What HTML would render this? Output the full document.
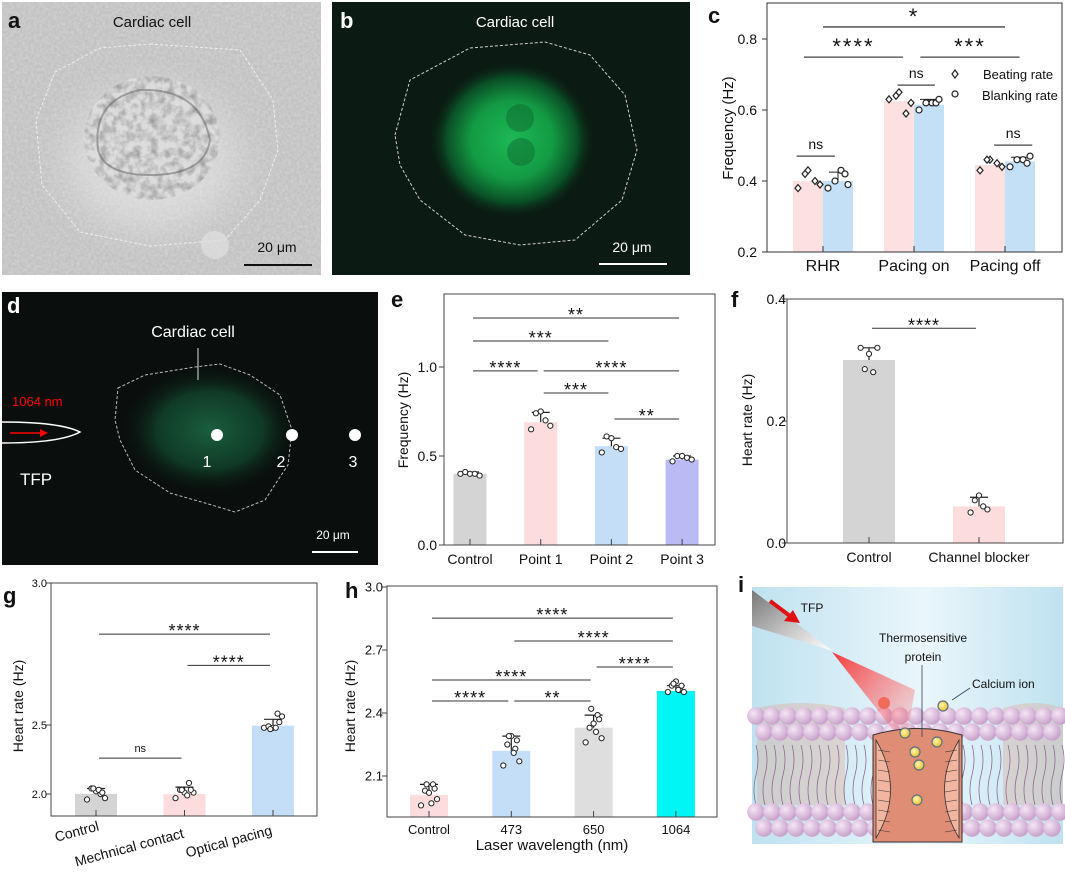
<!DOCTYPE html>
<html><head><meta charset="utf-8"><style>
html,body{margin:0;padding:0;background:#fff}
svg{display:block}
text{font-family:"Liberation Sans",Arial,sans-serif}
</style></head><body>
<svg id="fig" width="1065" height="873" viewBox="0 0 1065 873" xmlns="http://www.w3.org/2000/svg">
<defs>
<filter id="noise" x="0" y="0" width="1" height="1"><feTurbulence type="fractalNoise" baseFrequency="0.35" numOctaves="2" seed="3"/><feColorMatrix type="matrix" values="0 0 0 0 0.85  0 0 0 0 0.85  0 0 0 0 0.85  0 0 0 1.2 -0.35"/></filter>
<filter id="noise2" x="0" y="0" width="1" height="1"><feTurbulence type="fractalNoise" baseFrequency="0.12" numOctaves="3" seed="7"/><feColorMatrix type="matrix" values="0 0 0 0 0.2  0 0 0 0 0.2  0 0 0 0 0.2  0 0 0 1.6 -0.6"/></filter>
<radialGradient id="greenB" cx="0.5" cy="0.5" r="0.5"><stop offset="0" stop-color="#1db955"/><stop offset="0.5" stop-color="#139a44"/><stop offset="0.8" stop-color="#0a4f26"/><stop offset="1" stop-color="#0b2417" stop-opacity="0"/></radialGradient>
<radialGradient id="greenD" cx="0.5" cy="0.5" r="0.5"><stop offset="0" stop-color="#1a5e3c"/><stop offset="0.6" stop-color="#103a26"/><stop offset="1" stop-color="#0a1410" stop-opacity="0"/></radialGradient>
<radialGradient id="cellA" cx="0.5" cy="0.5" r="0.5"><stop offset="0" stop-color="#e6e6e6"/><stop offset="0.6" stop-color="#d2d2d2"/><stop offset="1" stop-color="#c8c8c8" stop-opacity="0"/></radialGradient>
<linearGradient id="bgI" x1="0" y1="0" x2="1" y2="0"><stop offset="0" stop-color="#bfe2f0"/><stop offset="0.55" stop-color="#eaf6fb"/><stop offset="1" stop-color="#bfe2f0"/></linearGradient>
<linearGradient id="laser" x1="0" y1="0" x2="1" y2="1"><stop offset="0" stop-color="#ff1a1a"/><stop offset="1" stop-color="#ff6060" stop-opacity="0.1"/></linearGradient>
<linearGradient id="needle" x1="0" y1="0" x2="1" y2="1"><stop offset="0" stop-color="#777"/><stop offset="0.6" stop-color="#ccc"/><stop offset="1" stop-color="#fff"/></linearGradient>
<radialGradient id="ball" cx="0.35" cy="0.35" r="0.65"><stop offset="0" stop-color="#f6e6f6"/><stop offset="1" stop-color="#c9a3cb"/></radialGradient>
<radialGradient id="ion" cx="0.4" cy="0.4" r="0.6"><stop offset="0" stop-color="#fff7b0"/><stop offset="1" stop-color="#e8c22a"/></radialGradient>
<clipPath id="cellClip"><ellipse cx="152" cy="138" rx="68" ry="62"/></clipPath>
</defs>

<!-- panel a -->
<g>
<rect x="2" y="2" width="319" height="273" fill="#c2c2c2"/>
<ellipse cx="152" cy="160" rx="120" ry="100" fill="url(#cellA)"/>
<rect x="2" y="2" width="319" height="273" filter="url(#noise)" opacity="0.5"/>
<ellipse cx="152" cy="138" rx="68" ry="62" fill="#dcdcdc"/>
<rect x="80" y="70" width="150" height="140" filter="url(#noise2)" clip-path="url(#cellClip)" opacity="0.8"/>
<path d="M98,150 Q92,100 140,90 Q200,88 210,140 Q205,175 150,175 Q105,175 98,150Z" fill="none" stroke="#555" stroke-width="2" opacity="0.45"/>
<path d="M150,44 L240,50 L273,100 L278,150 L260,200 L225,240 L150,246 L80,232 L42,185 L36,120 L55,72 L100,48 Z" fill="none" stroke="#eee" stroke-width="1" stroke-dasharray="3,2"/>
<circle cx="215" cy="245" r="14" fill="#e0e0e0" opacity="0.7"/>
<text x="8" y="28" font-size="22" font-weight="bold" fill="#111">a</text>
<text x="152" y="27" font-size="15" text-anchor="middle" fill="#111">Cardiac cell</text>
<text x="277" y="252" font-size="14" text-anchor="middle" fill="#111">20 μm</text>
<line x1="244" y1="265" x2="312" y2="265" stroke="#111" stroke-width="2"/>
</g>

<!-- panel b -->
<g>
<rect x="332" y="2" width="358" height="273" fill="#0b1a12"/>
<ellipse cx="512" cy="140" rx="82" ry="78" fill="url(#greenB)"/>
<circle cx="520" cy="118" r="14" fill="#0e6a30" opacity="0.5"/>
<circle cx="521" cy="152" r="14" fill="#0e6a30" opacity="0.5"/>
<path d="M395,135 L410,80 L470,48 L545,42 L590,55 L625,95 L637,150 L622,200 L575,240 L520,245 L465,235 L420,200 L400,165 Z" fill="none" stroke="#cfcfcf" stroke-width="1" stroke-dasharray="3,2"/>
<text x="340" y="28" font-size="22" font-weight="bold" fill="#fff">b</text>
<text x="515" y="27" font-size="15" text-anchor="middle" fill="#fff">Cardiac cell</text>
<text x="632" y="252" font-size="14" text-anchor="middle" fill="#fff">20 μm</text>
<line x1="599" y1="264" x2="667" y2="264" stroke="#fff" stroke-width="2"/>
</g>

<!-- panel d -->
<g>
<rect x="2" y="292" width="376" height="273" fill="#0a0f0d"/>
<ellipse cx="210" cy="430" rx="88" ry="64" fill="url(#greenD)"/>
<path d="M118,388 L145,375 L195,367 L220,364 L250,375 L280,395 L292,430 L288,465 L278,480 L265,500 L235,512 L205,503 L170,493 L135,470 L120,440 L115,420 Z" fill="none" stroke="#bbb" stroke-width="1" stroke-dasharray="3,2"/>
<line x1="198" y1="348" x2="198" y2="380" stroke="#ddd" stroke-width="1"/>
<path d="M2,422 Q60,422 80,432 Q60,443 2,443" fill="none" stroke="#fff" stroke-width="1.5"/>
<line x1="10" y1="433" x2="45" y2="433" stroke="#f00" stroke-width="1.5"/>
<path d="M48,433 L40,429 L40,437Z" fill="#f00"/>
<text x="12" y="406" font-size="13" fill="#f00">1064 nm</text>
<text x="20" y="485" font-size="17" fill="#fff">TFP</text>
<text x="193" y="337" font-size="16" text-anchor="middle" fill="#fff">Cardiac cell</text>
<circle cx="217" cy="435" r="6" fill="#fff"/>
<circle cx="292" cy="435" r="6" fill="#fff"/>
<circle cx="355" cy="435" r="6" fill="#fff"/>
<text x="207" y="467" font-size="16" text-anchor="middle" fill="#fff">1</text>
<text x="281" y="467" font-size="16" text-anchor="middle" fill="#fff">2</text>
<text x="353" y="467" font-size="16" text-anchor="middle" fill="#fff">3</text>
<text x="7" y="313" font-size="22" font-weight="bold" fill="#fff">d</text>
<text x="333" y="539" font-size="12" text-anchor="middle" fill="#fff">20 μm</text>
<line x1="312" y1="552" x2="358" y2="552" stroke="#fff" stroke-width="2"/>
</g>

<!-- panel i -->
<g id="panelI">
<rect x="752" y="587" width="311" height="257" fill="url(#bgI)"/>
</g>

<g id="charts"></g>
</svg>
<script>
// ---------- panel c data ----------
const cCategories = ['RHR', 'Pacing on', 'Pacing off'];
const cBeating = [0.40, 0.625, 0.445];
const cBlanking = [0.40, 0.615, 0.455];
const cBeatSd = [0.02, 0.02, 0.012];
const cBlankSd = [0.025, 0.015, 0.012];
const cBeatPts = [[0.38, 0.43, 0.40, 0.42, 0.39], [0.63, 0.65, 0.59, 0.64, 0.62], [0.43, 0.46, 0.45, 0.46, 0.44]];
const cBlankPts = [[0.38, 0.43, 0.40, 0.42, 0.39], [0.60, 0.62, 0.62, 0.62, 0.63], [0.44, 0.46, 0.46, 0.45, 0.47]];
const cTicks = [0.2, 0.4, 0.6, 0.8];
const cTickLabels = ['0.2', '0.4', '0.6', '0.8'];
const cSig = [[-0.21, 0.88, 0.749, '****'], [1.07, 2.16, 0.749, '***'], [0, 2, 0.834, '*'], [0.82, 1.23, 0.670, 'ns'], [-0.29, 0.13, 0.470, 'ns'], [1.88, 2.3, 0.501, 'ns']];
// ---------- panel e data ----------
const eCategories = ['Control', 'Point 1', 'Point 2', 'Point 3'];
const eMeans = [0.40, 0.69, 0.555, 0.48];
const eSd = [0.01, 0.055, 0.045, 0.02];
const ePts = [[0.40, 0.41, 0.40, 0.40, 0.39], [0.65, 0.74, 0.75, 0.70, 0.67], [0.52, 0.61, 0.60, 0.55, 0.54], [0.47, 0.50, 0.50, 0.49, 0.48]];
const eTicks = [0.0, 0.5, 1.0];
const eTickLabels = ['0.0', '0.5', '1.0'];
const eSig = [[0, 3, 1.275, '**'], [0, 2, 1.146, '***'], [0, 1, 0.978, '****'], [1, 3, 0.978, '****'], [1, 2, 0.854, '***'], [2, 3, 0.708, '**']];
// ---------- panel f data ----------
const fCategories = ['Control', 'Channel blocker'];
const fMeans = [0.30, 0.06];
const fSd = [0.02, 0.015];
const fPts = [[0.32, 0.285, 0.31, 0.28, 0.32], [0.05, 0.07, 0.078, 0.06, 0.055]];
const fTicks = [0.0, 0.2, 0.4];
const fTickLabels = ['0.0', '0.2', '0.4'];
const fSig = [[0, 1, 0.352, '****']];
// ---------- panel g data ----------
const gCategories = ['Control', 'Mechnical contact', 'Optical pacing'];
const gMeans = [2.0, 2.0, 2.495];
const gSd = [0.04, 0.05, 0.025];
const gPts = [[1.96, 2.04, 2.02, 2.00, 1.97, 2.04, 2.03, 2.01], [1.97, 2.03, 2.01, 2.08, 2.01, 2.03, 1.99, 2.03], [2.48, 2.49, 2.48, 2.54, 2.53, 2.47, 2.48, 2.51]];
const gTicks = [2.0, 2.5, 3.0];
const gTickLabels = ['2.0', '2.5', '3.0'];
const gSig = [[0, 2, 2.82, '****'], [1, 2, 2.71, '****'], [0, 1, 2.26, 'ns']];
// ---------- panel h data ----------
const hCategories = ['Control', '473', '650', '1064'];
const hMeans = [2.01, 2.22, 2.33, 2.505];
const hSd = [0.05, 0.07, 0.06, 0.025];
const hPts = [[1.96, 2.03, 2.02, 2.06, 1.99, 2.06, 1.97, 2.04], [2.15, 2.25, 2.29, 2.23, 2.17, 2.29, 2.21, 2.27], [2.26, 2.33, 2.35, 2.39, 2.28, 2.42, 2.31, 2.37], [2.50, 2.53, 2.55, 2.51, 2.50, 2.54, 2.51, 2.53]];
const hTicks = [2.1, 2.4, 2.7, 3.0];
const hTickLabels = ['2.1', '2.4', '2.7', '3.0'];
const hSig = [[0, 3, 2.852, '****'], [1, 3, 2.743, '****'], [2, 3, 2.619, '****'], [0, 2, 2.557, '****'], [0, 1, 2.457, '****'], [1, 2, 2.457, '**']];

const NS = 'http://www.w3.org/2000/svg';
const root = document.getElementById('charts');
function mk(tag, attrs, name, parent) {
  const el = document.createElementNS(NS, tag);
  for (const k in attrs) el.setAttribute(k, attrs[k]);
  
  
  (parent || root).appendChild(el);
  return el;
}
function tx(x, y, s, size, name, extra, parent) {
  const a = Object.assign({x: x, y: y, 'font-size': size, fill: '#111', 'text-anchor': 'middle'}, extra || {});
  const el = mk('text', a, name, parent);
  el.textContent = s;
  return el;
}
const jit5 = [-12, -6, 0, 6, 12];
const jit8 = [-10, -5, 0, 5, 10, -3, 3, 7];

function chart(o) {
  const g = mk('g', {}, o.name);
  o.means.forEach((m, i) => {
    mk('rect', {x: o.xc(i) - o.bw / 2, y: o.y(m), width: o.bw, height: o.fb - o.y(m), fill: o.colors[i]}, 'bar-' + o.cats[i].toLowerCase().replace(/ /g, '-'), g);
  });
  mk('rect', {x: o.fl, y: o.ft, width: o.fr - o.fl, height: o.fb - o.ft, fill: 'none', stroke: '#444', 'stroke-width': 1}, 'plot-frame', g);
  o.ticks.forEach((t, i) => {
    mk('line', {x1: o.fl - 5, x2: o.fl, y1: o.y(t), y2: o.y(t), stroke: '#444'}, 'y-tick', g);
    tx(o.tlx, o.y(t) + o.ts * 0.36, o.tickLabels[i], o.ts, 'y-tick-label', {'text-anchor': 'end'}, g);
  });
  o.cats.forEach((c, i) => {
    mk('line', {x1: o.xc(i), x2: o.xc(i), y1: o.fb, y2: o.fb - 6, stroke: '#444'}, 'x-tick', g);
    if (o.rot) {
      tx(o.xc(i) + o.rot[i][0], o.fb + o.rot[i][1], c, o.xs, 'x-tick-label', {transform: 'rotate(-15 ' + (o.xc(i) + o.rot[i][0]) + ' ' + (o.fb + o.rot[i][1]) + ')'}, g);
    } else {
      tx(o.xc(i), o.fb + o.xly, c, o.xs, 'x-tick-label', {}, g);
    }
  });
  o.means.forEach((m, i) => {
    const x = o.xc(i), yt = o.y(m + o.sd[i]);
    mk('line', {x1: x, x2: x, y1: o.y(m), y2: yt, stroke: '#222', 'stroke-width': 1.2}, 'error-bar', g);
    mk('line', {x1: x - 9, x2: x + 9, y1: yt, y2: yt, stroke: '#222', 'stroke-width': 1.2}, 'error-cap', g);
    const jit = o.pts[i].length > 5 ? jit8 : jit5;
    o.pts[i].forEach((p, k) => {
      mk('circle', {cx: x + jit[k] * o.js, cy: o.y(p), r: 2.6, fill: '#fff', stroke: '#222', 'stroke-width': 1}, 'data-point', g);
    });
  });
  o.sig.forEach(s => {
    const x1 = o.xc(s[0]) + 3, x2 = o.xc(s[1]) - 3, yy = o.y(s[2]);
    mk('line', {x1: x1, x2: x2, y1: yy, y2: yy, stroke: '#333', 'stroke-width': 1}, 'significance-line', g);
    const isNs = s[3] === 'ns';
    tx((x1 + x2) / 2, isNs ? yy - 6 : yy + 3, s[3], isNs ? o.ts : o.ss, 'significance-label', {'letter-spacing': isNs ? 0 : 1}, g);
  });
  tx(o.ytx, o.yty, o.ytitle, o.yts, 'y-axis-title', {transform: 'rotate(-90 ' + o.ytx + ' ' + o.yty + ')'}, g);
  tx(o.lx, o.ly, o.label, 22, 'panel-label-' + o.label, {'font-weight': 'bold', 'text-anchor': 'start'}, g);
  return g;
}

// ---- panel c (grouped) ----
(function () {
  const y = v => 252 - (v - 0.2) * 355;
  const gx = i => 823 + i * 91;
  const g = mk('g', {}, 'panel-c-chart');
  cBeating.forEach((m, i) => {
    mk('rect', {x: gx(i) - 30, y: y(m), width: 30, height: 252 - y(m), fill: '#fde0e0'}, 'bar-beating-' + i, g);
  });
  cBlanking.forEach((m, i) => {
    mk('rect', {x: gx(i), y: y(m), width: 30, height: 252 - y(m), fill: '#c3e0f7'}, 'bar-blanking-' + i, g);
  });
  mk('rect', {x: 767, y: 3, width: 295, height: 249, fill: 'none', stroke: '#333'}, 'plot-frame', g);
  cTicks.forEach((t, i) => {
    mk('line', {x1: 762, x2: 767, y1: y(t), y2: y(t), stroke: '#333'}, 'y-tick', g);
    tx(757, y(t) + 5, cTickLabels[i], 14, 'y-tick-label', {'text-anchor': 'end'}, g);
  });
  cCategories.forEach((c, i) => {
    mk('line', {x1: gx(i), x2: gx(i), y1: 252, y2: 246, stroke: '#333'}, 'x-tick', g);
    tx(gx(i), 271, c, 16, 'x-tick-label', {}, g);
  });
  const dj = [-25, -15, -8, -18, -3];
  const cj = [5, 18, 12, 22, 25];
  cBeating.forEach((m, i) => {
    cBeatPts[i].forEach((p, k) => {
      const cx = gx(i) + dj[k], cy = y(p);
      mk('path', {d: 'M' + cx + ',' + (cy - 3.5) + 'L' + (cx + 3) + ',' + cy + 'L' + cx + ',' + (cy + 3.5) + 'L' + (cx - 3) + ',' + cy + 'Z', fill: '#fff', stroke: '#222', 'stroke-width': 1.2}, 'beating-point', g);
    });
  });
  cBlanking.forEach((m, i) => {
    const x = gx(i) + 15, yt = y(m + cBlankSd[i]);
    mk('line', {x1: x, x2: x, y1: y(m), y2: yt, stroke: '#222'}, 'error-bar', g);
    mk('line', {x1: x - 9, x2: x + 9, y1: yt, y2: yt, stroke: '#222'}, 'error-cap', g);
    cBlankPts[i].forEach((p, k) => {
      mk('circle', {cx: gx(i) + cj[k], cy: y(p), r: 3, fill: '#fff', stroke: '#222', 'stroke-width': 1.2}, 'blanking-point', g);
    });
  });
  cSig.forEach(s => {
    const x1 = gx(s[0]), x2 = gx(s[1]), yy = y(s[2]);
    mk('line', {x1: x1, x2: x2, y1: yy, y2: yy, stroke: '#444', 'stroke-width': 1.3}, 'significance-line', g);
    const isNs = s[3] === 'ns';
    tx((x1 + x2) / 2, isNs ? yy - 7 : yy - 3, s[3], isNs ? 14 : 22, 'significance-label', {'letter-spacing': isNs ? 0 : 2}, g);
  });
  mk('path', {d: 'M955,70L958,74L955,78L952,74Z', fill: '#fff', stroke: '#222', 'stroke-width': 1.2}, 'legend-beating-marker', g);
  tx(983, 79, 'Beating rate', 13, 'legend-beating-label', {'text-anchor': 'start'}, g);
  mk('circle', {cx: 955, cy: 94, r: 3, fill: '#fff', stroke: '#222', 'stroke-width': 1.2}, 'legend-blanking-marker', g);
  tx(982, 100, 'Blanking rate', 13, 'legend-blanking-label', {'text-anchor': 'start'}, g);
  tx(733, 128, 'Frequency (Hz)', 15, 'y-axis-title', {transform: 'rotate(-90 733 128)'}, g);
  tx(708, 23, 'c', 22, 'panel-label-c', {'font-weight': 'bold', 'text-anchor': 'start'}, g);
})();

chart({name: 'panel-e-chart', label: 'e', lx: 391, ly: 307, fl: 444, fr: 715, ft: 294, fb: 545,
  y: v => 545 - 178 * v, xc: i => 470 + i * 70.7, bw: 33, colors: ['#d4d4d4', '#fcdcdc', '#c3def6', '#babaf5'],
  cats: eCategories, means: eMeans, sd: eSd, pts: ePts, ticks: eTicks, tickLabels: eTickLabels, sig: eSig,
  tlx: 437, ts: 14, xs: 14, xly: 19, ss: 18, js: 0.8, ytitle: 'Frequency (Hz)', ytx: 408, yty: 420, yts: 14});

chart({name: 'panel-f-chart', label: 'f', lx: 731, ly: 307, fl: 787, fr: 1063, ft: 299, fb: 543,
  y: v => 543 - 610 * v, xc: i => 869 + i * 110, bw: 52, colors: ['#d4d4d4', '#fcdcdc'],
  cats: fCategories, means: fMeans, sd: fSd, pts: fPts, ticks: fTicks, tickLabels: fTickLabels, sig: fSig,
  tlx: 786, ts: 14, xs: 14, xly: 19, ss: 18, js: 0.7, ytitle: 'Heart rate (Hz)', ytx: 752, yty: 420, yts: 14});

chart({name: 'panel-g-chart', label: 'g', lx: 3, ly: 603, fl: 51, fr: 317, ft: 583, fb: 816,
  y: v => v <= 2.5 ? 725 - (v - 2.5) * 138 : 725 - (v - 2.5) * 284, xc: i => 96 + i * 88.5, bw: 42, colors: ['#d4d4d4', '#fcdcdc', '#c3def6'],
  cats: gCategories, means: gMeans, sd: gSd, pts: gPts, ticks: gTicks, tickLabels: gTickLabels, sig: gSig,
  tlx: 47, ts: 11, xs: 14, xly: 19, ss: 18, js: 0.9, rot: [[-18, 20], [-54, 36], [-43, 30]],
  ytitle: 'Heart rate (Hz)', ytx: 23, yty: 706, yts: 14});

chart({name: 'panel-h-chart', label: 'h', lx: 345, ly: 598, fl: 387, fr: 717, ft: 586, fb: 817,
  y: v => 776 - (v - 2.1) * 210, xc: i => 429 + i * 82.3, bw: 38, colors: ['#fcdcdc', '#c3def6', '#dedede', '#00f5f5'],
  cats: hCategories, means: hMeans, sd: hSd, pts: hPts, ticks: hTicks, tickLabels: hTickLabels, sig: hSig,
  tlx: 383, ts: 13, xs: 13, xly: 17, ss: 18, js: 0.8, ytitle: 'Heart rate (Hz)', ytx: 355, yty: 706, yts: 14});
tx(552, 850, 'Laser wavelength (nm)', 15, 'x-axis-title');

// ---- panel i schematic ----
(function () {
  const P = document.getElementById('panelI');
  mk('path', {d: 'M757,708 Q800,698 845,708 L845,805 L757,805Z', fill: '#e3a58e', opacity: 0.35}, 'left-channel-ghost', P);
  mk('path', {d: 'M1003,708 Q1035,698 1063,708 L1063,805 L1003,805Z', fill: '#e3a58e', opacity: 0.35}, 'right-channel-ghost', P);
  for (let x = 756; x < 1063; x += 9) {
    mk('path', {d: 'M' + x + ',745 q4,15 0,30 q-4,15 0,30', fill: 'none', stroke: '#8c6a8f', 'stroke-width': 0.8}, 'lipid-tail', P);
  }
  [[716, 0], [732, 8], [812, 0], [828, 8]].forEach(r => {
    for (let x = 756 + r[1]; x < 1066; x += 16) {
      mk('circle', {cx: x, cy: r[0], r: 8.8, fill: 'url(#ball)'}, 'lipid-head', P);
    }
  });
  mk('path', {d: 'M832,652 L915,690 L905,745 Z', fill: 'url(#laser)', opacity: 0.85}, 'laser-beam', P);
  mk('path', {d: 'M752,590 L833,651 L752,626 Z', fill: 'url(#needle)'}, 'tfp-needle', P);
  mk('line', {x1: 770, y1: 601, x2: 790, y2: 616, stroke: '#e01010', 'stroke-width': 4}, 'laser-arrow', P);
  mk('path', {d: 'M800,623 L784,621 L793,610 Z', fill: '#e01010'}, 'laser-arrowhead', P);
  mk('path', {d: 'M873,735 Q918,722 962,735 L962,842 L873,842 Z', fill: '#e08d76', stroke: '#333', 'stroke-width': 1}, 'thermosensitive-channel', P);
  mk('path', {d: 'M876,740 Q905,790 876,838 Z', fill: '#f2b5a0', stroke: '#333', 'stroke-width': 0.8}, 'channel-subunit-left', P);
  mk('path', {d: 'M959,740 Q930,790 959,838 Z', fill: '#f2b5a0', stroke: '#333', 'stroke-width': 0.8}, 'channel-subunit-right', P);
  for (let k = 0; k < 9; k++) {
    const yy = 750 + k * 10;
    mk('line', {x1: 878, y1: yy, x2: 890, y2: yy + 2, stroke: '#333', 'stroke-width': 0.6}, 'subunit-stripe', P);
    mk('line', {x1: 945, y1: yy + 2, x2: 957, y2: yy, stroke: '#333', 'stroke-width': 0.6}, 'subunit-stripe', P);
  }
  mk('circle', {cx: 884, cy: 703, r: 6, fill: '#f06a5a'}, 'heated-ion', P);
  [[943, 706], [905, 733], [937, 742], [915, 752], [919, 765], [917, 800]].forEach(c => {
    mk('circle', {cx: c[0], cy: c[1], r: 5, fill: 'url(#ion)', stroke: '#5b6f8a', 'stroke-width': 1.2}, 'calcium-ion', P);
  });
  mk('line', {x1: 922, y1: 665, x2: 922, y2: 737, stroke: '#345', 'stroke-width': 0.8}, 'protein-pointer', P);
  mk('line', {x1: 970, y1: 688, x2: 952, y2: 700, stroke: '#345', 'stroke-width': 0.8}, 'ion-pointer', P);
  tx(812, 612, 'TFP', 12, 'tfp-label', {'text-anchor': 'middle'}, P);
  tx(923, 642, 'Thermosensitive', 12, 'protein-label-1', {}, P);
  tx(923, 661, 'protein', 12, 'protein-label-2', {}, P);
  tx(972, 688, 'Calcium ion', 12, 'calcium-label', {'text-anchor': 'start'}, P);
  tx(738, 592, 'i', 22, 'panel-label-i', {'font-weight': 'bold', 'text-anchor': 'start'}, P);
})();
</script>
</body></html>
